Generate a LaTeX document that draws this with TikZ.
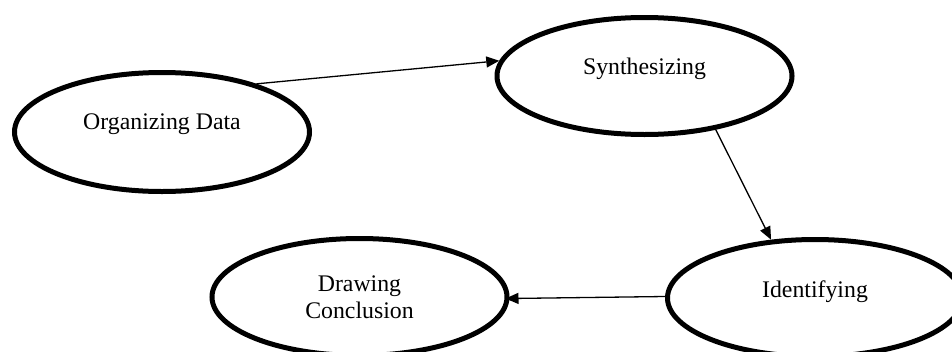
\documentclass[tikz,border=0pt]{standalone}
\usepackage{fontspec}
\setmainfont{Liberation Serif}
\usetikzlibrary{shapes.geometric,arrows.meta}
\begin{document}
\begin{tikzpicture}[x=1pt,y=-1pt,
  oval/.style={draw=black, line width=5pt, ellipse, minimum width=295pt, minimum height=119pt, inner sep=0pt},
  txt/.style={font=\fontsize{23.8}{26.6}\selectfont, inner sep=0pt, align=center},
  conn/.style={draw=black, line width=1.3pt, -{Triangle[length=13pt,width=11pt]}}]
\useasboundingbox (0,0) rectangle (952,351);
\node[oval] (org) at (162,132) {};
\node[oval, minimum height=117pt] (syn) at (644.5,76) {};
\node[oval, minimum height=117pt] (ide) at (815,298) {};
\node[oval, minimum height=117pt] (drw) at (359.5,297) {};
\node[txt, anchor=base] (orgt) at ([yshift=3pt]org.center) {Organizing Data};
\node[txt, anchor=base] (synt) at ([yshift=2pt]syn.center) {Synthesizing};
\node[txt, anchor=base] (idet) at ([yshift=1pt]ide.center) {Identifying};
\node[txt, anchor=base] (drwt) at ([yshift=-21pt]drw.center) {Drawing\\Conclusion};
\draw[conn] (org.27) -- (syn.174);
\draw[conn] (syn.-37) -- (ide.127);
\draw[conn, shorten >=-4pt] ([yshift=1.5pt]ide.west) -- ([yshift=-1.5pt]drw.east);
\end{tikzpicture}
\end{document}
